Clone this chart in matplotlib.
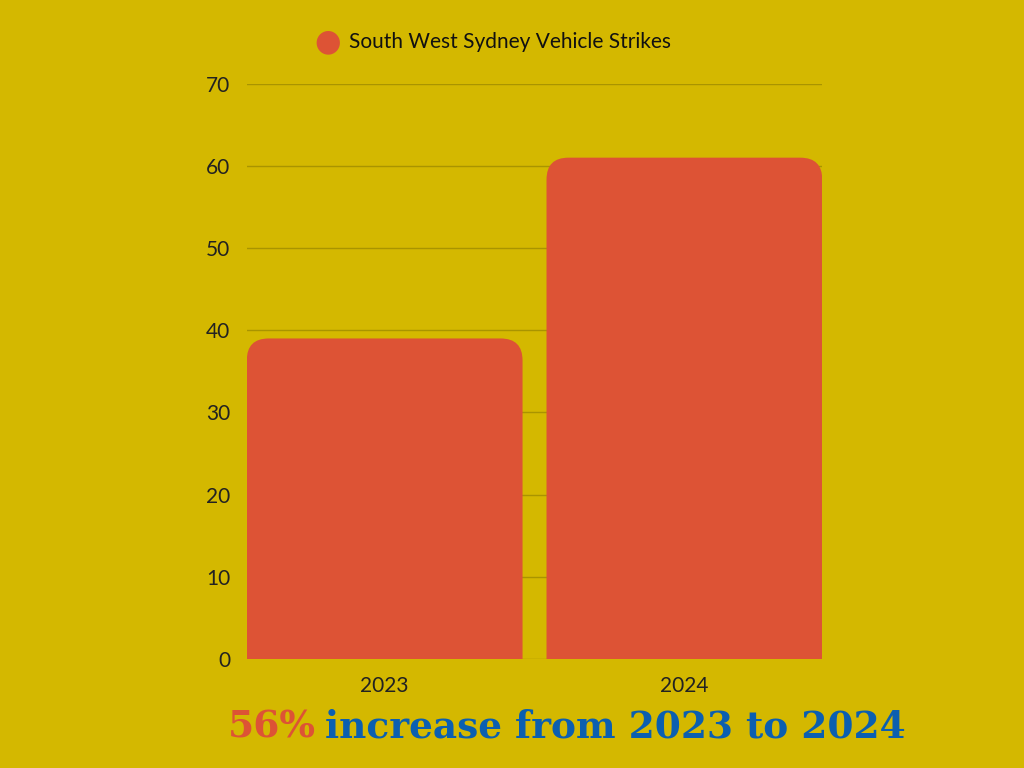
import matplotlib
matplotlib.use("Agg")
import matplotlib.pyplot as plt
from matplotlib.patches import FancyBboxPatch

years = ["2023", "2024"]
strikes = [39, 61]
yticks = [0, 10, 20, 30, 40, 50, 60, 70]

bg = "#d4b800"
bar_color = "#dd5335"
blue = "#0b5fb0"

fig = plt.figure(figsize=(10.24, 7.68), dpi=100, facecolor=bg)
ax = fig.add_axes([0.241, 0.142, 0.562, 0.749], facecolor=bg)

width = 0.92
for i, v in enumerate(strikes):
    p = FancyBboxPatch((i - width / 2, -5), width, v + 5,
                       boxstyle="round,pad=0,rounding_size=0.073",
                       mutation_aspect=36.6, fc=bar_color, ec="none", zorder=3)
    ax.add_patch(p)

ax.set_xlim(-0.46, 1.46)
ax.set_ylim(0, 70)
ax.set_xticks(range(len(years)))
ax.set_xticklabels(years)
ax.set_yticks(yticks)
ax.grid(axis="y", color="#a99400", lw=1, zorder=0)
for s in ax.spines.values():
    s.set_visible(False)
ax.tick_params(length=0, labelsize=15, colors="#222222", pad=12)
for lab in ax.get_xticklabels() + ax.get_yticklabels():
    lab.set_family("Lato")

# legend
fig.text(0.320, 0.945, "\u25CF", color=bar_color, fontsize=22, ha="center", va="center")
fig.text(0.341, 0.945, "South West Sydney Vehicle Strikes", fontsize=15,
         family="Lato", color="#111111", va="center")

# bottom headline
t1 = fig.text(0.223, 0.053, "56%", color=bar_color, fontsize=27,
              family="DejaVu Serif", weight="bold", va="center")
fig.canvas.draw()
bb = t1.get_window_extent()
x2 = bb.x1 / fig.bbox.width + 0.008
fig.text(x2, 0.053, "increase from 2023 to 2024", color=blue, fontsize=27,
         family="DejaVu Serif", weight="bold", va="center")

fig.savefig("out.png", dpi=100, facecolor=bg)
